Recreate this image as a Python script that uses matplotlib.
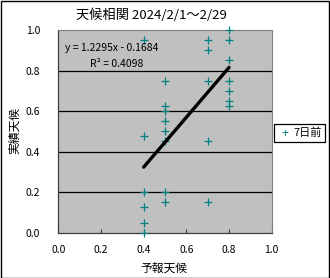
import matplotlib
matplotlib.use("Agg")
import matplotlib.pyplot as plt
import numpy as np

plt.rcParams['font.family'] = ['Noto Sans CJK JP', 'DejaVu Sans']

# data: forecast (x) vs actual (y)
x_vals = [0.4]*6 + [0.5]*8 + [0.7]*5 + [0.8]*7
y_vals = [0.95, 0.475, 0.2, 0.125, 0.05, 0.0,
          0.75, 0.625, 0.6, 0.55, 0.5, 0.45, 0.2, 0.15,
          0.95, 0.9, 0.75, 0.45, 0.15,
          1.0, 0.95, 0.85, 0.75, 0.7, 0.65, 0.625]
slope = 1.2295
intercept = -0.1684
r2 = 0.4098
title = "天候相関 2024/2/1～2/29"
series_name = "7日前"
ticks = [0.0, 0.2, 0.4, 0.6, 0.8, 1.0]

W, H = 330, 278
fig = plt.figure(figsize=(W/100, H/100), dpi=100)
fig.patch.set_facecolor('white')
ax = fig.add_axes([58.3/W, 1-232.7/H, 213.4/W, 202.7/H])
ax.set_facecolor('#C0C0C0')
ax.set_xlim(0, 1)
ax.set_ylim(0, 1)
ax.set_xticks(ticks)
ax.set_yticks(ticks)
ax.set_xticklabels([f"{t:.1f}" for t in ticks], fontsize=7.5)
ax.set_yticklabels([f"{t:.1f}" for t in ticks], fontsize=7.5)
ax.tick_params(axis='x', direction='in', length=3, width=0.8, pad=9, color='#404040')
ax.tick_params(axis='y', length=0, pad=13)
for t in ticks[1:-1]:
    ax.axhline(t, color='black', lw=0.9, zorder=1)
for s in ['left', 'bottom']:
    ax.spines[s].set_color('#404040')
    ax.spines[s].set_linewidth(0.9)
for s in ['top', 'right']:
    ax.spines[s].set_color('#808080')
    ax.spines[s].set_linewidth(0.8)

ax.scatter(x_vals, y_vals, marker='+', s=38, color='#008080', linewidths=0.9, zorder=3, clip_on=False)

xl = np.array([min(x_vals), max(x_vals)])
ax.plot(xl, slope*xl + intercept, color='black', lw=2.4, solid_capstyle='round', zorder=4)

ax.text(0.03, 0.91, f"y = {slope}x - {abs(intercept)}", transform=ax.transAxes,
        fontsize=7.5, ha='left', va='center', zorder=5)
ax.text(0.15, 0.83, f"R² = {r2}", transform=ax.transAxes,
        fontsize=7.5, ha='left', va='center', zorder=5)

fig.text(151/W, 1-15/H, title, fontsize=9.5, ha='center', va='center')
fig.text(164/W, 1-268/H, "予報天候", fontsize=8.5, ha='center', va='center')
fig.text(15/W, 1-131/H, "実績天候", fontsize=8.5, ha='center', va='center', rotation=90)

# legend box
lg = plt.Rectangle((274/W, 1-141.7/H), 51/W, 17.7/H, transform=fig.transFigure,
                   facecolor='white', edgecolor='black', lw=0.9)
fig.patches.append(lg)
fig.text(285/W, 1-133/H, "+", color='#008080', fontsize=9, ha='center', va='center')
fig.text(308/W, 1-133/H, series_name, fontsize=8, ha='center', va='center')

border = plt.Rectangle((0.5/W, 0.5/H), (W-1.5)/W, (H-1.5)/H, transform=fig.transFigure,
                       facecolor='none', edgecolor='black', lw=1.0)
fig.patches.append(border)

fig.savefig("out.png", dpi=100)
